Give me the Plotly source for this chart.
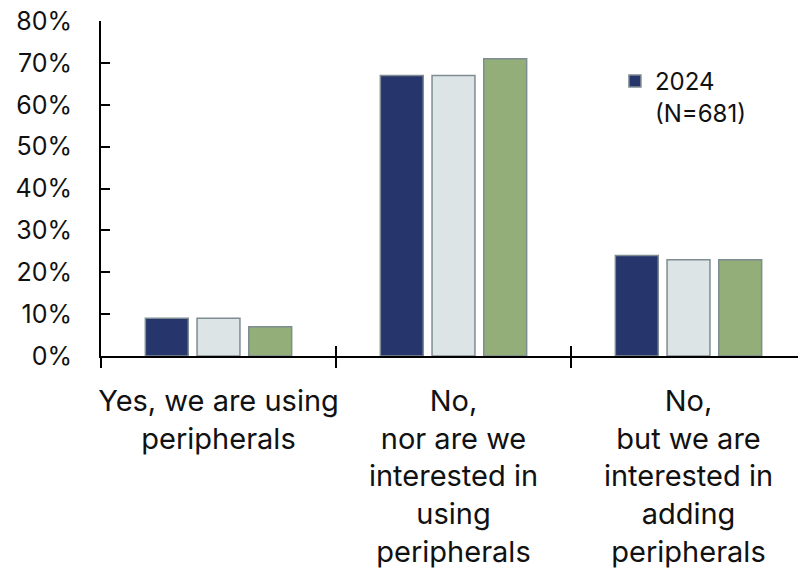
import plotly.graph_objects as go

categories = [
    "Yes, we are using<br>peripherals",
    "No,<br>nor are we<br>interested in<br>using<br>peripherals",
    "No,<br>but we are<br>interested in<br>adding<br>peripherals",
]
series_names = ["2024<br>(N=681)", "Series 2", "Series 3"]
values_2024 = [9, 67, 24]
values_s2 = [9, 67, 23]
values_s3 = [7, 71, 23]
y_ticks = [0, 10, 20, 30, 40, 50, 60, 70, 80]
y_labels = [f"{v}%" for v in y_ticks]

colors = ["#26356b", "#dde4e6", "#93ae78"]
font_family = "Inter"

fig = go.Figure()
for name, vals, col, show in zip(series_names, [values_2024, values_s2, values_s3],
                                 colors, [True, False, False]):
    fig.add_trace(go.Bar(
        x=categories, y=vals, name=name, showlegend=show,
        marker=dict(color=col, line=dict(color="#7f8c92", width=1.5)),
    ))

# page body adds an 8px offset, so margins are shifted by that
fig.update_layout(
    width=806, height=573,
    margin=dict(l=93, r=8, t=13, b=225, autoexpand=False),
    plot_bgcolor="white", paper_bgcolor="white",
    barmode="group", bargap=0.34, bargroupgap=0.17,
    font=dict(family=font_family, size=25, color="#111111"),
    legend=dict(x=0.729, y=0.887, xanchor="left", yanchor="top",
                valign="top", bgcolor="rgba(0,0,0,0)",
                font=dict(size=24)),
)
fig.update_yaxes(
    range=[0, 80], tickvals=y_ticks, ticktext=y_labels,
    showline=True, linecolor="black", linewidth=2,
    ticks="inside", ticklen=9, tickwidth=2, tickcolor="black",
    showgrid=False, zeroline=False, ticklabelstandoff=22, automargin=False,
    ticklabeloverflow="allow",
)
fig.update_xaxes(
    showline=True, linecolor="black", linewidth=2,
    ticks="outside", tickson="boundaries", ticklen=10, tickwidth=2,
    tickcolor="black", tickangle=0, ticklabelstandoff=18, automargin=False,
    tickfont=dict(size=29),
)
# inner half of the crossing category ticks
for b in [0.5, 1.5]:
    fig.add_shape(type="line", xref="x", yref="paper", x0=b, x1=b, y0=0, y1=0.03,
                  line=dict(color="black", width=2))

fig.write_html("out.html")
